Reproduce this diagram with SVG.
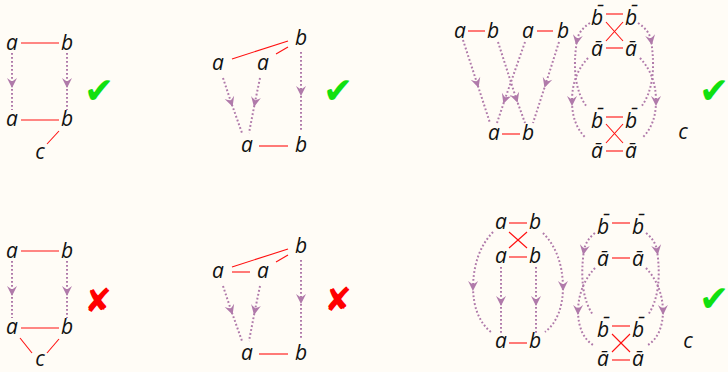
<svg xmlns="http://www.w3.org/2000/svg" width="728" height="372" viewBox="0 0 728 372">
<defs>
<marker id="ah" markerUnits="userSpaceOnUse" markerWidth="16" markerHeight="16" viewBox="-8 -8 16 16" refX="0" refY="0" orient="auto">
<path d="M5,0 L-5,-5 Q-2,-1.3 -1.8,0 Q-2,1.3 -5,5 Z" fill="#B07AAA"/>
</marker>
</defs>
<style>
.bg{fill:#FFFCF6}
.t{font-family:"Open Sans","Noto Sans",sans-serif;font-style:italic;font-size:21px;fill:#111;text-anchor:middle}
.r{stroke:#FF1010;stroke-width:1.1;fill:none}
.d{stroke:#B07AAA;stroke-width:2;stroke-dasharray:1.8 2.2;fill:none;marker-mid:url(#ah)}
.ok{font-family:"DejaVu Sans",sans-serif;font-size:36px;fill:#10E010;text-anchor:middle}
.no{font-family:"DejaVu Sans",sans-serif;font-size:33px;fill:#FF0000;text-anchor:middle}
</style>
<rect class="bg" x="0" y="0" width="728" height="372"/>

<g id="connectors">
<line class="r" x1="21" y1="43" x2="59" y2="43"/>
<line class="r" x1="21" y1="120" x2="59" y2="120"/>
<line class="r" x1="59" y1="131" x2="47" y2="144"/>
<path class="d" d="M12,53 L12,83 L12,110"/>
<path class="d" d="M67,53 L67,83 L67,110"/>
<line class="r" x1="21" y1="251" x2="59" y2="251"/>
<line class="r" x1="21" y1="328" x2="59" y2="328"/>
<line class="r" x1="20" y1="338" x2="32" y2="353"/>
<line class="r" x1="59" y1="339" x2="47" y2="353"/>
<path class="d" d="M12,261 L12,291 L12,318"/>
<path class="d" d="M67,261 L67,291 L67,318"/>
<line class="r" x1="232" y1="59" x2="288" y2="41"/>
<line class="r" x1="276" y1="54" x2="288" y2="47"/>
<line class="r" x1="259" y1="146" x2="288" y2="146"/>
<path class="d" d="M223,78 L231,102 L242,133"/>
<path class="d" d="M260,78 L255,102 L249,133"/>
<path class="d" d="M301,52 L301,91 L301,130"/>
<line class="r" x1="232" y1="267" x2="288" y2="249"/>
<line class="r" x1="276" y1="262" x2="288" y2="255"/>
<line class="r" x1="232" y1="272" x2="250" y2="272"/>
<line class="r" x1="259" y1="354" x2="288" y2="354"/>
<path class="d" d="M223,286 L231,310 L242,341"/>
<path class="d" d="M260,286 L255,310 L249,341"/>
<path class="d" d="M301,260 L301,299 L301,338"/>
<line class="r" x1="468" y1="31" x2="485" y2="31"/>
<line class="r" x1="537" y1="31" x2="553" y2="31"/>
<line class="r" x1="502" y1="134" x2="520" y2="134"/>
<path class="d" d="M463,40 L477,83 L490,123"/>
<path class="d" d="M498,42 L516,98 L525,123"/>
<path class="d" d="M525,42 L505,99 L497,123"/>
<path class="d" d="M559,42 L546,83 L533,123"/>
<line class="r" x1="606" y1="14" x2="623" y2="14"/>
<line class="r" x1="606" y1="48" x2="623" y2="48"/>
<line class="r" x1="606" y1="22" x2="623" y2="41"/>
<line class="r" x1="623" y1="22" x2="606" y2="41"/>
<line class="r" x1="606" y1="117" x2="623" y2="117"/>
<line class="r" x1="606" y1="151" x2="623" y2="151"/>
<line class="r" x1="606" y1="124" x2="623" y2="143"/>
<line class="r" x1="623" y1="124" x2="606" y2="143"/>
<path class="d" d="M590,23 Q579,30 577,40 Q570,85 587,107"/>
<path class="d" d="M588,58 Q572,75 572,101 Q572,125 586,138"/>
<path class="d" d="M638,23 Q649,30 651,40 Q658,85 641,107"/>
<path class="d" d="M640,58 Q656,75 656,101 Q656,125 642,138"/>
<line class="r" x1="509" y1="223" x2="527" y2="223"/>
<line class="r" x1="509" y1="257" x2="527" y2="257"/>
<line class="r" x1="509" y1="232" x2="527" y2="248"/>
<line class="r" x1="527" y1="232" x2="509" y2="248"/>
<line class="r" x1="509" y1="343" x2="527" y2="343"/>
<path class="d" d="M501,267 L501,301 L501,333"/>
<path class="d" d="M536,267 L536,301 L536,333"/>
<path class="d" d="M493,232 Q474,252 473,286 Q473,318 492,333"/>
<path class="d" d="M543,233 Q562,252 563,286 Q563,318 545,332"/>
<line class="r" x1="612" y1="223" x2="630" y2="223"/>
<line class="r" x1="612" y1="258" x2="630" y2="258"/>
<line class="r" x1="612" y1="326" x2="630" y2="326"/>
<line class="r" x1="612" y1="360" x2="630" y2="360"/>
<line class="r" x1="612" y1="334" x2="630" y2="352"/>
<line class="r" x1="630" y1="334" x2="612" y2="352"/>
<path class="d" d="M595,233 Q586,240 584,250 Q578,293 593,315"/>
<path class="d" d="M595,268 Q579,285 578,310 Q578,335 593,345"/>
<path class="d" d="M646,233 Q655,240 657,250 Q663,293 648,315"/>
<path class="d" d="M646,268 Q662,285 663,310 Q663,335 648,345"/>
</g>

<g id="p1top">
<text class="t" x="12" y="50">a</text><text class="t" x="67" y="50">b</text>
<text class="t" x="12" y="126">a</text><text class="t" x="67" y="126">b</text>
<text class="t" x="40" y="159">c</text>
<text class="ok" x="99" y="103">✔</text>
</g>
<g id="p1bottom">
<text class="t" x="12" y="258">a</text><text class="t" x="67" y="258">b</text>
<text class="t" x="12" y="334">a</text><text class="t" x="67" y="334">b</text>
<text class="t" x="40" y="366">c</text>
<text class="no" x="98" y="312">✘</text>
</g>
<g id="p2top">
<text class="t" x="301" y="45">b</text>
<text class="t" x="218" y="70">a</text><text class="t" x="263" y="70">a</text>
<text class="t" x="247" y="152">a</text><text class="t" x="301" y="152">b</text>
<text class="ok" x="338" y="103">✔</text>
</g>
<g id="p2bottom">
<text class="t" x="301" y="253">b</text>
<text class="t" x="218" y="278">a</text><text class="t" x="263" y="278">a</text>
<text class="t" x="247" y="360">a</text><text class="t" x="301" y="360">b</text>
<text class="no" x="338" y="311">✘</text>
</g>
<g id="p3top">
<text class="t" x="460" y="38">a</text><text class="t" x="493" y="38">b</text>
<text class="t" x="528" y="38">a</text><text class="t" x="563" y="38">b</text>
<text class="t" x="494" y="140">a</text><text class="t" x="528" y="140">b</text>
</g>
<g id="p4top">
<text class="t" x="597" y="25">b̄</text><text class="t" x="631" y="25">b̄</text>
<text class="t" x="597" y="56">ā</text><text class="t" x="631" y="56">ā</text>
<text class="t" x="597" y="128">b̄</text><text class="t" x="631" y="128">b̄</text>
<text class="t" x="597" y="158">ā</text><text class="t" x="631" y="158">ā</text>
<text class="t" x="683" y="139">c</text>
<text class="ok" x="714" y="103">✔</text>
</g>
<g id="p3bottom">
<text class="t" x="501" y="229">a</text><text class="t" x="535" y="229">b</text>
<text class="t" x="501" y="263">a</text><text class="t" x="535" y="263">b</text>
<text class="t" x="501" y="348">a</text><text class="t" x="535" y="348">b</text>
</g>
<g id="p4bottom">
<text class="t" x="603" y="234">b̄</text><text class="t" x="638" y="234">b̄</text>
<text class="t" x="603" y="266">ā</text><text class="t" x="638" y="266">ā</text>
<text class="t" x="603" y="337">b̄</text><text class="t" x="638" y="337">b̄</text>
<text class="t" x="603" y="366">ā</text><text class="t" x="638" y="366">ā</text>
<text class="t" x="688" y="348">c</text>
<text class="ok" x="714" y="311">✔</text>
</g>
</svg>
